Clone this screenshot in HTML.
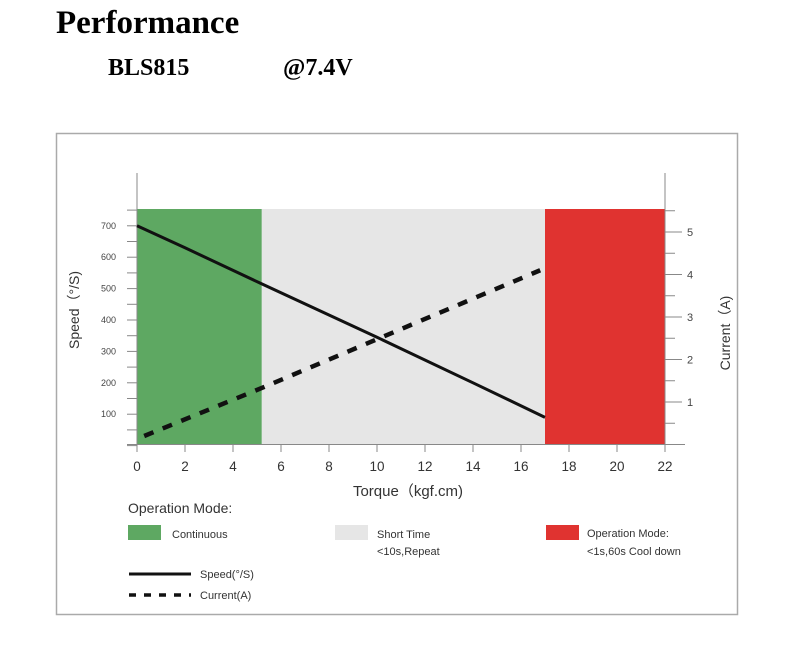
<!DOCTYPE html>
<html><head><meta charset="utf-8"><style>
html,body{margin:0;padding:0;background:#fff;width:800px;height:662px;overflow:hidden}
svg{display:block}
</style></head><body>
<svg width="800" height="662" xmlns="http://www.w3.org/2000/svg">
<text x="56" y="33" font-family="Liberation Serif, serif" font-weight="bold" font-size="33" fill="#000">Performance</text>
<text x="108" y="75" font-family="Liberation Serif, serif" font-weight="bold" font-size="24" fill="#000">BLS815</text>
<text x="283" y="75" font-family="Liberation Serif, serif" font-weight="bold" font-size="24" fill="#000">@7.4V</text>
<rect x="56.5" y="133.5" width="681" height="481" fill="#fff" stroke="#aaa" stroke-width="1.5"/>
<g id="plot" font-family="Liberation Sans, sans-serif"></g>
</svg>
<script>
const xTicks=[0,2,4,6,8,10,12,14,16,18,20,22];
const speedTicks=[100,200,300,400,500,600,700];
const currentTicks=[1,2,3,4,5];
const zoneStarts=[0,5.2,17];
const zoneEnds=[5.2,17,22];
const zoneColors=['#5ea862','#e6e6e6','#e03330'];
const speedTorque=[0,2,5.2,10,14,17];
const speedValues=[700,630,515,345,200,90];
const currentTorque=[0.3,5.2,16.8];
const currentValues=[0.2,1.33,4.1];

const NS='http://www.w3.org/2000/svg';
const g=document.getElementById('plot');
const X=v=>137+v*24;
const YS=v=>445.6-v*0.314;
const YC=v=>444.5-v*42.5;
function mk(t,a,parent){const e=document.createElementNS(NS,t);for(const k in a)e.setAttribute(k,a[k]);(parent||g).appendChild(e);return e;}

for(let i=0;i<zoneStarts.length;i++){
  const r=mk('rect',{x:X(zoneStarts[i]),y:209,width:X(zoneEnds[i])-X(zoneStarts[i]),height:235,fill:zoneColors[i]});
  
  
}
const ax=mk('line',{x1:137,y1:173,x2:137,y2:445,stroke:'#888','stroke-width':1});


const ax2=mk('line',{x1:665,y1:173,x2:665,y2:445,stroke:'#888','stroke-width':1});


const ax3=mk('line',{x1:127,y1:444.5,x2:685,y2:444.5,stroke:'#888','stroke-width':1});


for(let v=0;v<=750;v+=50){mk('line',{x1:127,y1:YS(v),x2:137,y2:YS(v),stroke:'#888','stroke-width':1});}
speedTicks.forEach(v=>{const t=mk('text',{x:116,y:YS(v)+3,'font-size':9,fill:'#444','text-anchor':'end'});t.textContent=v;

});
for(let v=0.5;v<=5.5;v+=0.5){mk('line',{x1:665,y1:YC(v),x2:(v%1===0)?682:675,y2:YC(v),stroke:'#888','stroke-width':1});}
currentTicks.forEach(v=>{const t=mk('text',{x:687,y:YC(v)+4,'font-size':11,fill:'#444'});t.textContent=v;

});
xTicks.forEach(v=>{mk('line',{x1:X(v),y1:444,x2:X(v),y2:452,stroke:'#888','stroke-width':1});
const t=mk('text',{x:X(v),y:471,'font-size':13.5,fill:'#333','text-anchor':'middle'});t.textContent=v;

});
let t=mk('text',{x:0,y:0,'font-size':14,fill:'#333','text-anchor':'middle',transform:'translate(79,310) rotate(-90)'});t.textContent='Speed（°/S)';


t=mk('text',{x:0,y:0,'font-size':14,fill:'#333','text-anchor':'middle',transform:'translate(730,333) rotate(-90)'});t.textContent='Current（A)';


t=mk('text',{x:408,y:496,'font-size':15,fill:'#333','text-anchor':'middle'});t.textContent='Torque（kgf.cm)';


let p=speedTorque.map((v,i)=>(i?'L':'M')+X(v)+','+YS(speedValues[i])).join(' ');
const sl=mk('path',{d:p,fill:'none',stroke:'#111','stroke-width':3});


p=currentTorque.map((v,i)=>(i?'L':'M')+X(v)+','+YC(currentValues[i])).join(' ');
const cl=mk('path',{d:p,fill:'none',stroke:'#111','stroke-width':4.5,'stroke-dasharray':'10,10'});


function txt(x,y,s,fs,name){const e=mk('text',{x:x,y:y,'font-size':fs,fill:'#333'});e.textContent=s;

}
txt(128,513,'Operation Mode:',14,'legend-title');
const sw=[[128,'#5ea862'],[335,'#e6e6e6'],[546,'#e03330']];
sw.forEach((s,i)=>{const r=mk('rect',{x:s[0],y:525,width:33,height:15,fill:s[1]});

});
txt(172,538,'Continuous',11,'legend-continuous');
txt(377,538,'Short Time',11,'legend-short-time');
txt(377,555,'<10s,Repeat',11,'legend-short-time-note');
txt(587,537,'Operation Mode:',11,'legend-peak');
txt(587,555,'<1s,60s Cool down',11,'legend-peak-note');
const ll=mk('line',{x1:129,y1:574,x2:191,y2:574,stroke:'#111','stroke-width':3});


const ld=mk('line',{x1:129,y1:595,x2:191,y2:595,stroke:'#111','stroke-width':3.5,'stroke-dasharray':'7,8'});


txt(200,578,'Speed(°/S)',11,'legend-speed-label');
txt(200,599,'Current(A)',11,'legend-current-label');
</script>
</body></html>
